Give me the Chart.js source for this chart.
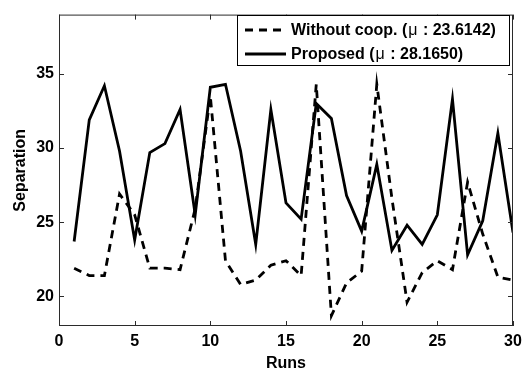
<!DOCTYPE html>
<html>
<head>
<meta charset="utf-8">
<title>Separation per run</title>
<script src="https://cdn.jsdelivr.net/npm/chart.js@4.4.1/dist/chart.umd.min.js"></script>
<style>
  html, body { margin: 0; padding: 0; background: #fff; }
  #wrap { width: 528px; height: 373px; }
</style>
</head>
<body>
<div id="wrap"><canvas id="sepChart" width="528" height="373"></canvas></div>
<script>
// run index and the separation measured on each run
const runs = [1, 2, 3, 4, 5, 6, 7, 8, 9, 10, 11, 12, 13, 14, 15, 16, 17, 18, 19, 20, 21, 22, 23, 24, 25, 26, 27, 28, 29, 30];
const withoutCoop = [21.9, 21.4, 21.4, 26.9, 25.5, 21.9, 21.9, 21.8, 25.9, 33.5,
  22.4, 20.8, 21.1, 22.1, 22.4, 21.4, 34.3, 18.7, 20.9, 21.7,
  34.3, 26.6, 19.6, 21.6, 22.4, 21.8, 27.7, 24.2, 21.3, 21.1];
const proposed = [23.7, 31.9, 34.2, 29.8, 23.8, 29.7, 30.3, 32.6, 25.5, 34.1,
  34.3, 29.8, 23.5, 32.6, 26.3, 25.2, 33.0, 32.0, 26.8, 24.4,
  28.9, 23.1, 24.8, 23.5, 25.5, 33.3, 22.8, 25.1, 31.0, 24.3];

const xTicks = [0, 5, 10, 15, 20, 25, 30];
const yTicks = [20, 25, 30, 35];

// legend text: [bold part, symbol, bold rest]
const legendWithout = ["Without coop. (", "\u03bc", " : 23.6142)"];
const legendProposed = ["Proposed (", "\u03bc", " : 28.1650)"];

const FONT = "'Liberation Sans', Arial, Helvetica, sans-serif";
const DASH = [8, 6];

const toPoints = (ys) => runs.map((r, i) => ({ x: r, y: ys[i] }));

// box around the plot with inward tick marks on all 4 sides
const frameBox = {
  id: "frameBox",
  afterDatasetsDraw(chart) {
    const { ctx, chartArea: a, scales } = chart;
    ctx.save();
    ctx.strokeStyle = "#2b2b2b";
    ctx.lineWidth = 1;
    ctx.strokeRect(a.left + 0.5, a.top + 0.5, a.right - a.left - 1, a.bottom - a.top - 1);
    ctx.beginPath();
    for (const v of xTicks) {
      const px = Math.round(scales.x.getPixelForValue(v)) + 0.5;
      ctx.moveTo(px, a.bottom);
      ctx.lineTo(px, a.bottom - 5);
      ctx.moveTo(px, a.top);
      ctx.lineTo(px, a.top + 5);
    }
    for (const v of yTicks) {
      const py = Math.round(scales.y.getPixelForValue(v)) + 0.5;
      ctx.moveTo(a.left, py);
      ctx.lineTo(a.left + 5, py);
      ctx.moveTo(a.right, py);
      ctx.lineTo(a.right - 5, py);
    }
    ctx.stroke();
    ctx.restore();
  },
};

// boxed legend in the upper right corner
const boxLegend = {
  id: "boxLegend",
  afterDraw(chart) {
    const { ctx, chartArea: a } = chart;
    const box = { left: 237, top: 15, right: a.right - 4, bottom: 65 };
    ctx.save();
    ctx.fillStyle = "#fff";
    ctx.fillRect(box.left, box.top, box.right - box.left, box.bottom - box.top);
    ctx.strokeStyle = "#000";
    ctx.lineWidth = 1;
    ctx.strokeRect(box.left + 0.5, box.top + 0.5, box.right - box.left, box.bottom - box.top);

    const rows = [
      { y: 30, dash: DASH, parts: legendWithout },
      { y: 54, dash: [], parts: legendProposed },
    ];
    for (const row of rows) {
      ctx.beginPath();
      ctx.setLineDash(row.dash);
      ctx.lineWidth = 2.8;
      ctx.strokeStyle = "#000";
      ctx.moveTo(245, row.y);
      ctx.lineTo(286, row.y);
      ctx.stroke();
      ctx.setLineDash([]);

      ctx.fillStyle = "#000";
      ctx.textBaseline = "middle";
      let x = 291;
      row.parts.forEach((t, i) => {
        ctx.font = (i === 1 ? "" : "bold ") + "16px " + FONT;
        if (i === 1) x += 1;
        ctx.fillText(t, x, row.y + 1);
        x += ctx.measureText(t).width + (i === 1 ? 1 : 0);
      });
    }
    ctx.restore();
  },
};

const ctx = document.getElementById("sepChart");
new Chart(ctx, {
  type: "line",
  data: {
    datasets: [
      {
        label: "Without coop.",
        data: toPoints(withoutCoop),
        borderColor: "#000",
        borderWidth: 2.8,
        borderDash: DASH,
        pointRadius: 0,
        tension: 0,
        order: 1,
      },
      {
        label: "Proposed",
        data: toPoints(proposed),
        borderColor: "#000",
        borderWidth: 2.8,
        pointRadius: 0,
        tension: 0,
        order: 0,
      },
    ],
  },
  options: {
    responsive: false,
    animation: false,
    devicePixelRatio: 1,
    layout: { padding: { top: 9, right: 15, left: 0, bottom: 0 } },
    plugins: {
      legend: { display: false },
      tooltip: { enabled: false },
    },
    scales: {
      x: {
        type: "linear",
        min: 0,
        max: 30,
        afterBuildTicks: (scale) => {
          scale.ticks = xTicks.map((v) => ({ value: v }));
        },
        afterFit: (scale) => {
          scale.height = 47;
        },
        grid: { display: false, drawTicks: false },
        border: { display: false },
        ticks: {
          padding: 6,
          color: "#000",
          font: { family: FONT, size: 16, weight: "bold" },
          maxRotation: 0,
        },
        title: {
          display: true,
          text: "Runs",
          color: "#000",
          padding: { top: 8, bottom: 0 },
          font: { family: FONT, size: 16, weight: "bold" },
        },
      },
      y: {
        min: 18,
        max: 39,
        afterBuildTicks: (scale) => {
          scale.ticks = yTicks.map((v) => ({ value: v }));
        },
        afterFit: (scale) => {
          scale.width = 59;
        },
        grid: { display: false, drawTicks: false },
        border: { display: false },
        ticks: {
          padding: 5,
          color: "#000",
          font: { family: FONT, size: 16, weight: "bold" },
        },
        title: {
          display: true,
          text: "Separation",
          color: "#000",
          padding: { top: 11, bottom: 0 },
          font: { family: FONT, size: 16, weight: "bold" },
        },
      },
    },
  },
  plugins: [frameBox, boxLegend],
});
</script>
</body>
</html>
